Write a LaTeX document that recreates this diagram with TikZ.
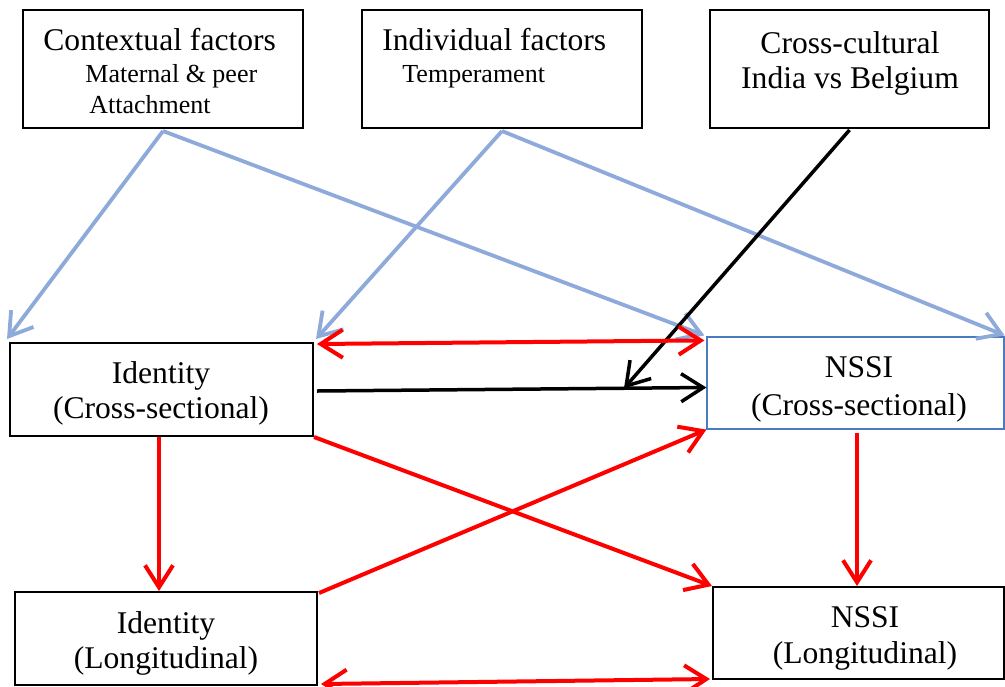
\documentclass[tikz,border=0pt]{standalone}
\usepackage{fontspec}
\setmainfont{Liberation Serif}
\usetikzlibrary{arrows.meta,fit,calc}
\definecolor{linkblue}{HTML}{8EAADB}
\definecolor{linkred}{HTML}{FF0000}
\definecolor{edgeblue}{HTML}{4A7BC0}
\tikzset{barbtip/.tip={Straight Barb[length=11pt,width=14pt]}}
\begin{document}
\begin{tikzpicture}[x=0.5pt,y=-0.5pt,
  box/.style={draw=black,line width=1pt,inner sep=0pt},
  bluebox/.style={draw=edgeblue,line width=0.6pt,inner sep=0pt},
  bigtxt/.style={font=\fontsize{15.8}{17.5}\selectfont,inner sep=0pt},
  smalltxt/.style={font=\fontsize{13}{15}\selectfont,inner sep=0pt},
  bluelink/.style={draw=linkblue,line width=1.9pt,-barbtip},
  redlink/.style={draw=linkred,line width=2pt,-barbtip},
  redboth/.style={draw=linkred,line width=2pt,barbtip-barbtip},
  blacklink/.style={draw=black,line width=1.75pt,-barbtip}]
\useasboundingbox (0,0) rectangle (1005,686);

% boxes
\node[box,fit={(23,10)(303,128)}] (ctx) {};
\node[box,fit={(362,10)(642,128)}] (ind) {};
\node[box,fit={(710,10)(989,128)}] (cc) {};
\node[box,fit={(10,343)(313,436)}] (idcs) {};
\node[bluebox,fit={(707,337)(1004,429)}] (nsscs) {};
\node[box,fit={(15,592)(317,685)}] (idl) {};
\node[box,fit={(713,587)(1004,679)}] (nssl) {};

% labels
\node[bigtxt,anchor=base west] (ctxa) at (43,50) {Contextual factors};
\node[smalltxt,anchor=base west] (ctxb) at (85,82) {Maternal \& peer};
\node[smalltxt,anchor=base west] (ctxc) at (89,113) {Attachment};
\node[bigtxt,anchor=base west] (inda) at (382,50) {Individual factors};
\node[smalltxt,anchor=base west] (indb) at (402,82) {Temperament};
\node[bigtxt,anchor=base] (cca) at (850,53) {Cross-cultural};
\node[bigtxt,anchor=base] (ccb) at (850,88) {India vs Belgium};
\node[bigtxt,anchor=base] (idcsa) at (161,383) {Identity};
\node[bigtxt,anchor=base] (idcsb) at (161,418) {(Cross-sectional)};
\node[bigtxt,anchor=base] (nsscsa) at (859,377) {NSSI};
\node[bigtxt,anchor=base] (nsscsb) at (859,415) {(Cross-sectional)};
\node[bigtxt,anchor=base] (idla) at (166,633) {Identity};
\node[bigtxt,anchor=base] (idlb) at (166,668) {(Longitudinal)};
\node[bigtxt,anchor=base] (nssla) at (865,627) {NSSI};
\node[bigtxt,anchor=base] (nsslb) at (865,663) {(Longitudinal)};

% blue influences from the top factors
\draw[bluelink] ($(ctx.south)+(0,2)$) -- ($(idcs.north west)+(-2,-3)$);
\draw[bluelink] ($(ctx.south)+(0,2)$) -- ($(nsscs.north west)+(-2,-1)$);
\draw[bluelink] ($(ind.south)+(0,2)$) -- ($(idcs.north east)+(2,-3)$);
\draw[bluelink] ($(ind.south)+(0,2)$) -- ($(nsscs.north east)+(0,-1)$);

% black: cross-sectional link and its moderator
\draw[blacklink] ($(idcs.east)+(3,1.5)$) -- ($(nsscs.west)+(0,4.5)$);
\coordinate (hit) at ($(idcs.east)!0.79!(nsscs.west)+(0,4)$);
\draw[blacklink] ($(cc.south)+(0,1)$) -- (hit);

% red paths
\draw[redboth] ($(idcs.north east)+(3,2)$) -- ($(nsscs.north west)+(-2,4)$);
\draw[redlink] (idcs.south east) -- (nssl.north west);
\draw[redlink] ($(idl.north east)+(1,2)$) -- (nsscs.south west);
\draw[redlink] ($(idcs.south)+(-2.5,0)$) -- ($(idl.north)+(-7,0)$);
\draw[redlink] ($(nsscs.south)+(1.5,3)$) -- ($(nssl.north)+(-1.5,0)$);
\draw[redboth] ($(idl.south east)+(3,-2)$) -- ($(nssl.south west)+(-2,-1)$);
\end{tikzpicture}
\end{document}
